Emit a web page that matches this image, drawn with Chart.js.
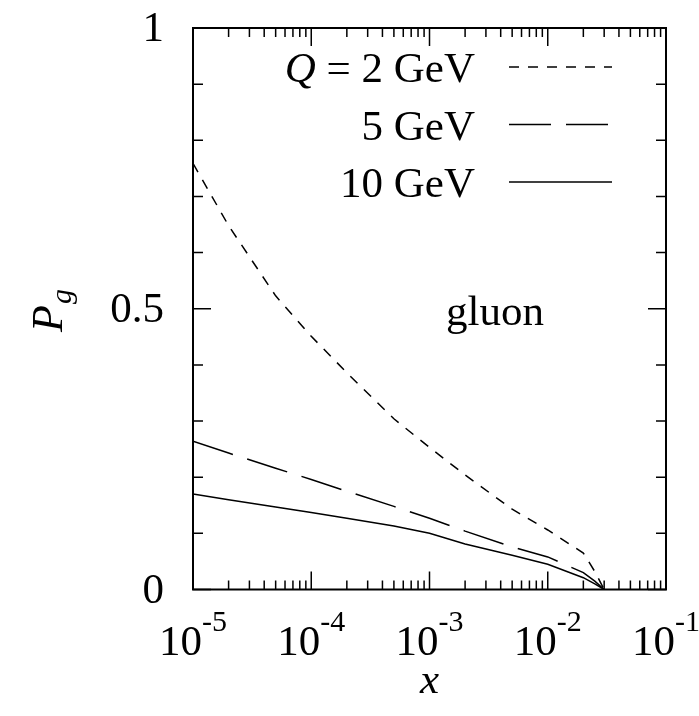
<!DOCTYPE html>
<html>
<head>
<meta charset="utf-8">
<script src="https://cdn.jsdelivr.net/npm/chart.js@4"></script>
<style>
  body { margin: 0; background: #fff; }
  canvas { display: block; }
</style>
</head>
<body>
<canvas id="gluonChart" width="699" height="716"></canvas>
<script>
// values (x on a log axis)
const xValues = [1e-5, 2e-5, 5e-5, 1e-4, 2e-4, 5e-4, 1e-3, 2e-3, 5e-3, 1e-2, 2e-2, 2.5e-2, 3e-2];
const q2Values = [0.759, 0.648, 0.523, 0.451, 0.386, 0.304, 0.253, 0.204, 0.143, 0.106, 0.065, 0.032, 0];
const q5Values = [0.264, 0.243, 0.216, 0.196, 0.175, 0.148, 0.127, 0.104, 0.076, 0.058, 0.030, 0.015, 0];
const q10Values = [0.170, 0.160, 0.147, 0.137, 0.127, 0.113, 0.100, 0.081, 0.061, 0.045, 0.021, 0.010, 0];

const seriesLabels = ['Q = 2 GeV', '5 GeV', '10 GeV'];
const xTickValues = [1e-5, 1e-4, 1e-3, 1e-2, 1e-1];
const xTickExponents = ['-5', '-4', '-3', '-2', '-1'];
const yTickValues = [0, 0.5, 1];
const yTickLabels = ['0', '0.5', '1'];

const SERIF = '"Liberation Serif", "Times New Roman", serif';
const BIG = '43px ' + SERIF;
const SMALL = '30px ' + SERIF;

function points(ys) {
  return xValues.map((x, i) => ({ x: x, y: ys[i] }));
}

function line(label, ys, dash) {
  return {
    label: label,
    data: points(ys),
    borderColor: '#000',
    borderWidth: 1.5,
    borderDash: dash,
    pointRadius: 0,
    tension: 0,
    fill: false,
  };
}

// frame, inward ticks, labels and the legend
const decorations = {
  id: 'decorations',
  afterDraw(chart) {
    const { ctx, chartArea: a, scales: { x, y } } = chart;
    ctx.save();
    ctx.strokeStyle = '#000';
    ctx.fillStyle = '#000';

    ctx.lineWidth = 1.5;
    ctx.beginPath();
    for (let e = -5; e < -1; e++) {
      for (let m = 1; m <= 9; m++) {
        const px = x.getPixelForValue(m * Math.pow(10, e));
        const len = m === 1 ? 18 : 9;
        ctx.moveTo(px, a.bottom); ctx.lineTo(px, a.bottom - len);
        ctx.moveTo(px, a.top); ctx.lineTo(px, a.top + len);
      }
    }
    for (let k = 0; k <= 10; k++) {
      const py = y.getPixelForValue(k / 10);
      const len = k % 5 === 0 ? 18 : 10;
      ctx.moveTo(a.left, py); ctx.lineTo(a.left + len, py);
      ctx.moveTo(a.right, py); ctx.lineTo(a.right - len, py);
    }
    ctx.stroke();

    ctx.lineWidth = 2;
    ctx.strokeRect(a.left, a.top, a.right - a.left, a.bottom - a.top);

    // x tick labels 10^n
    ctx.textBaseline = 'alphabetic';
    ctx.textAlign = 'left';
    xTickValues.forEach((v, i) => {
      const px = x.getPixelForValue(v);
      ctx.font = BIG;
      const wBase = ctx.measureText('10').width;
      ctx.font = SMALL;
      const wExp = ctx.measureText(xTickExponents[i]).width;
      const left = px - (wBase + wExp) / 2;
      ctx.font = BIG;
      ctx.fillText('10', left, a.bottom + 65);
      ctx.font = SMALL;
      ctx.fillText(xTickExponents[i], left + wBase, a.bottom + 41);
    });

    // y tick labels
    ctx.font = BIG;
    ctx.textAlign = 'right';
    ctx.textBaseline = 'middle';
    yTickValues.forEach((v, i) => {
      ctx.fillText(yTickLabels[i], a.left - 29, y.getPixelForValue(v) + 2);
    });

    // axis titles
    ctx.textAlign = 'center';
    ctx.textBaseline = 'alphabetic';
    ctx.font = 'italic ' + BIG;
    ctx.fillText('x', (a.left + a.right) / 2, 693);

    ctx.save();
    ctx.translate(62, 332);
    ctx.rotate(-Math.PI / 2);
    ctx.textAlign = 'left';
    ctx.font = 'italic 44px ' + SERIF;
    ctx.fillText('P', 0, 0);
    const wP = ctx.measureText('P').width;
    ctx.font = 'italic ' + SMALL;
    ctx.fillText('g', wP + 1, 9);
    ctx.restore();

    // gluon tag
    ctx.font = BIG;
    ctx.textAlign = 'left';
    ctx.fillText('gluon', 446, 325);

    // legend: text right-aligned, line sample to the right
    const textRight = a.left + 282;
    chart.data.datasets.forEach((ds, i) => {
      const base = a.top + 54 + i * 57.5;
      const label = ds.label;
      ctx.textAlign = 'right';
      if (label.startsWith('Q')) {
        const rest = label.slice(1);
        ctx.font = BIG;
        ctx.fillText(rest, textRight, base);
        const wRest = ctx.measureText(rest).width;
        ctx.font = 'italic ' + BIG;
        ctx.fillText('Q', textRight - wRest, base);
      } else {
        ctx.font = BIG;
        ctx.fillText(label, textRight, base);
      }
      ctx.lineWidth = 1.5;
      ctx.setLineDash(ds.borderDash || []);
      ctx.beginPath();
      ctx.moveTo(a.left + 316, base - 15);
      ctx.lineTo(a.left + 419, base - 15);
      ctx.stroke();
    });
    ctx.setLineDash([]);
    ctx.restore();
  }
};

new Chart(document.getElementById('gluonChart'), {
  type: 'line',
  data: {
    datasets: [
      line(seriesLabels[0], q2Values, [10, 9]),
      line(seriesLabels[1], q5Values, [42, 15]),
      line(seriesLabels[2], q10Values, []),
    ]
  },
  options: {
    responsive: false,
    animation: false,
    layout: { padding: { left: 193, right: 33, top: 28, bottom: 126.5 } },
    plugins: {
      legend: { display: false },
      tooltip: { enabled: false },
    },
    scales: {
      x: { type: 'logarithmic', min: 1e-5, max: 1e-1, display: false },
      y: { type: 'linear', min: 0, max: 1, display: false },
    }
  },
  plugins: [decorations]
});
</script>
</body>
</html>
